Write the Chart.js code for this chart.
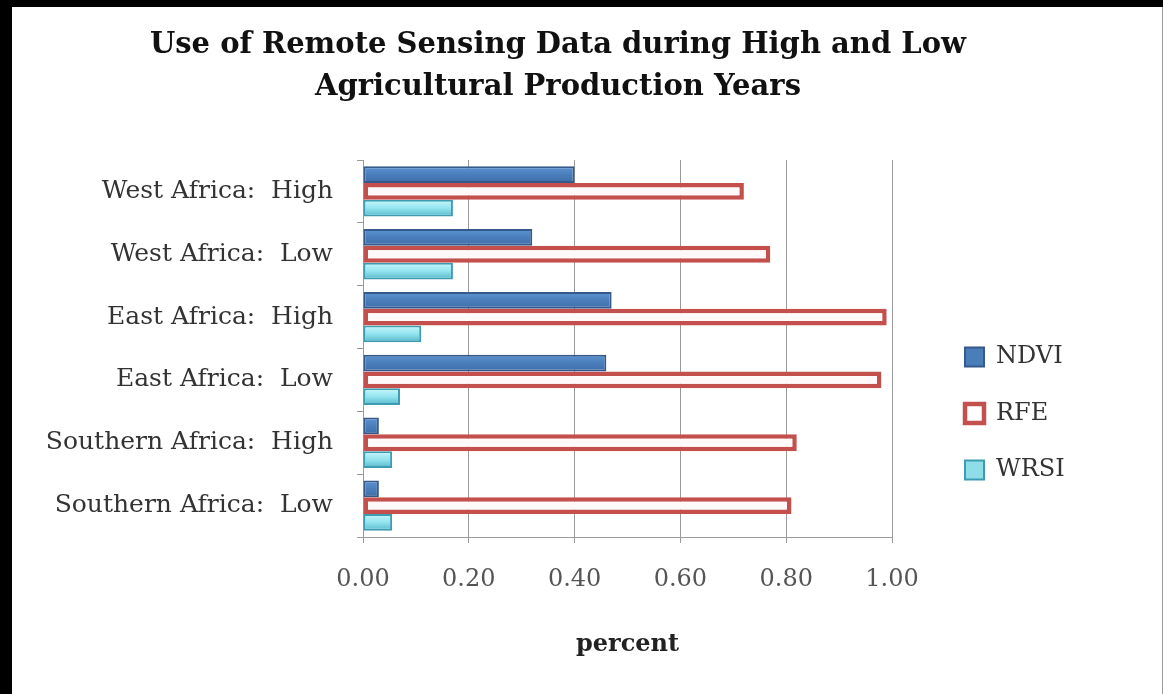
<!DOCTYPE html>
<html>
<head>
<meta charset="utf-8">
<script src="https://cdn.jsdelivr.net/npm/chart.js@4.4.1/dist/chart.umd.min.js"></script>
<style>
  html, body { margin: 0; padding: 0; background: #000; }
  #wrap { position: absolute; left: 12px; top: 7px; width: 1150px; height: 687px; background: #fff; border-right: 1px solid #999; }
  canvas { display: block; }
</style>
</head>
<body>
<div id="wrap"><canvas id="c" width="1150" height="687"></canvas></div>
<script>
const categories = [
  "West Africa:  High",
  "West Africa:  Low",
  "East Africa:  High",
  "East Africa:  Low",
  "Southern Africa:  High",
  "Southern Africa:  Low"
];
const ndvi = [0.40, 0.32, 0.47, 0.46, 0.03, 0.03];
const rfe  = [0.72, 0.77, 0.99, 0.98, 0.82, 0.81];
const wrsi = [0.17, 0.17, 0.11, 0.07, 0.055, 0.055];
const titleLines = ["Use of Remote Sensing Data during High and Low", "Agricultural Production Years"];
const axisTitle = "percent";

const FONT = "'DejaVu Serif', 'Liberation Serif', serif";
const AREA = { left: 351, right: 880, top: 153, bottom: 530 };
const CANVAS_H = 687;
const LEG_PAD = 32.5;
const CAT_PCT = 0.8;
const LEGEND_FILL = ['#4A7EBB', '#FFFFFF', '#8EDDE9'];

// vertical gradient across each bar (style only)
function barGradient(stops, fallback, dsIndex, nDatasets) {
  return (ctx) => {
    if (ctx.type !== 'data') return fallback;
    const ys = ctx.chart.scales.y;
    if (!ys) return fallback;
    const c = ys.getPixelForValue(ctx.dataIndex);
    const cat = (ys.bottom - ys.top) / categories.length;
    const g = cat * CAT_PCT, h = g / nDatasets;
    const top = c - g / 2 + dsIndex * h;
    if (!isFinite(top)) return fallback;
    const grad = ctx.chart.ctx.createLinearGradient(0, top, 0, top + h);
    stops.forEach((s, i) => grad.addColorStop(i / (stops.length - 1), s));
    return grad;
  };
}

const placePlugin = {
  id: 'place',
  afterLayout(chart) {
    const t = chart.titleBlock;
    if (t) { t.left = -29; t.right = 1121; }
    const lg = chart.legend;
    if (lg) {
      const w = lg.width;
      lg.left = 953 - LEG_PAD; lg.right = lg.left + w;
      lg.top = 350 - 12 - LEG_PAD; lg.bottom = CANVAS_H;
    }
  }
};

const cfg = {
  type: 'bar',
  data: {
    labels: categories,
    datasets: [
      { label: 'NDVI', data: ndvi,
        backgroundColor: barGradient(['#5E93D3', '#4A7EBB', '#3E6EA8'], '#4A7EBB', 0, 3),
        borderColor: '#34598A', borderWidth: 2, borderSkipped: false },
      { label: 'RFE', data: rfe, backgroundColor: '#FFF9F9', borderColor: '#C4504D', borderWidth: 4.5, borderSkipped: false },
      { label: 'WRSI', data: wrsi,
        backgroundColor: barGradient(['#C8F8FC', '#93E4EF', '#56B7CB'], '#8EDDE9', 2, 3),
        borderColor: '#3E9CB2', borderWidth: 2, borderSkipped: false }
    ]
  },
  options: {
    indexAxis: 'y',
    responsive: false,
    animation: false,
    devicePixelRatio: 1,
    layout: { padding: { left: 0, right: 150, top: 0, bottom: 0 } },
    datasets: { bar: { categoryPercentage: CAT_PCT, barPercentage: 1.0 } },
    plugins: {
      title: {
        display: true,
        text: titleLines,
        color: '#111',
        font: { family: FONT, size: 29, weight: 'bold', lineHeight: 42 / 29 },
        padding: { top: 17, bottom: 52 }
      },
      legend: {
        display: true,
        position: 'right',
        align: 'start',
        labels: {
          color: '#333',
          font: { family: FONT, size: 24 },
          boxWidth: 19,
          boxHeight: 19,
          padding: LEG_PAD,
          generateLabels(chart) {
            const items = Chart.defaults.plugins.legend.labels.generateLabels(chart);
            items.forEach((it, i) => { it.fillStyle = LEGEND_FILL[i]; });
            return items;
          }
        }
      },
      tooltip: { enabled: false }
    },
    scales: {
      x: {
        min: 0, max: 1,
        ticks: {
          stepSize: 0.2,
          color: '#555',
          padding: 22,
          font: { family: FONT, size: 24 },
          callback: (v) => Number(v).toFixed(2)
        },
        grid: { color: '#9a9a9a', lineWidth: 1, tickLength: 6, drawTicks: true },
        border: { color: '#9a9a9a', width: 1 },
        title: {
          display: true,
          text: axisTitle,
          color: '#222',
          font: { family: FONT, size: 24, weight: 'bold' },
          padding: { top: 4, bottom: 34.6 }
        },
        afterFit(scale) { scale.height = CANVAS_H - AREA.bottom; }
      },
      y: {
        ticks: {
          color: '#333',
          padding: 24,
          font: { family: FONT, size: 25 }
        },
        grid: { display: true, drawOnChartArea: false, drawTicks: true, tickLength: 6, color: '#9a9a9a' },
        border: { color: '#9a9a9a', width: 1 },
        afterFit(scale) { scale.width = AREA.left; }
      }
    }
  },
  plugins: [placePlugin]
};

const chart = new Chart(document.getElementById('c'), cfg);
for (let i = 0; i < 2; i++) {
  const dr = chart.chartArea.right - AREA.right;
  if (Math.abs(dr) > 0.5) {
    const p = chart.options.layout.padding;
    chart.options.layout.padding = { left: 0, top: 0, bottom: 0, right: (p.right || 0) + dr };
    chart.update();
  }
}
</script>
</body>
</html>
